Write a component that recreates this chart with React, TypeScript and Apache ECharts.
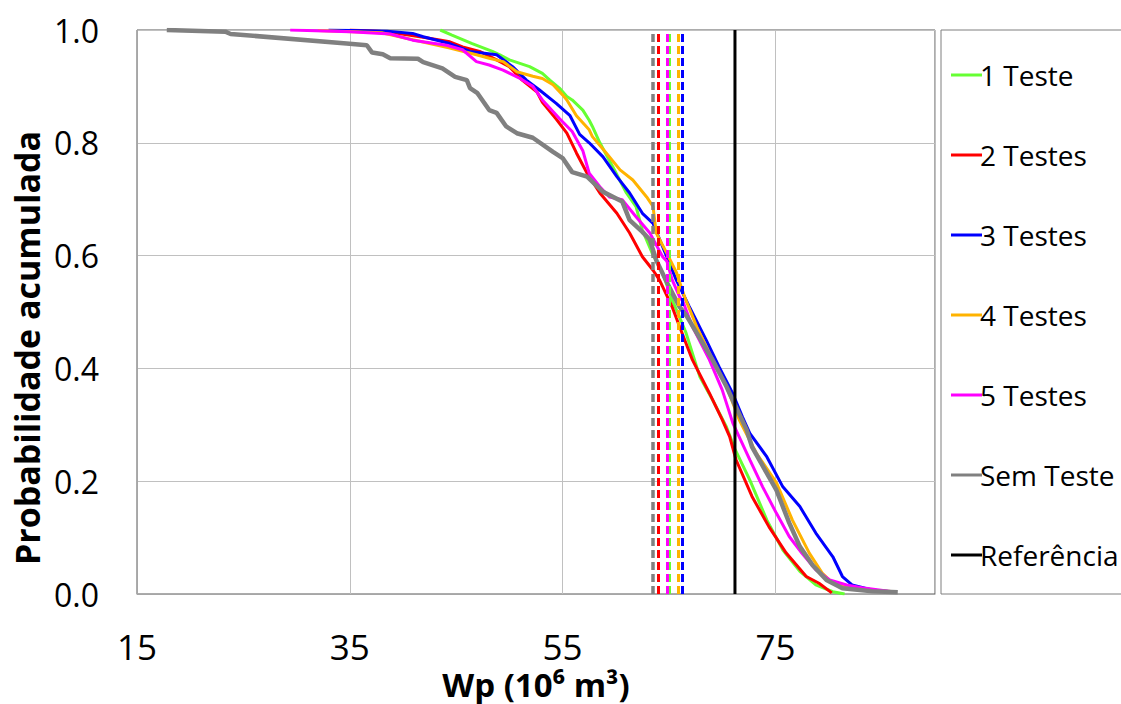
import React, { useEffect, useRef } from 'react';
import * as echarts from 'echarts';

// ---- data ----
const seriesNames = ['1 Teste', '2 Testes', '3 Testes', '4 Testes', '5 Testes', 'Sem Teste', 'Referência'];

const teste1: number[][] = [
  [43.5, 1.0], [44.6, 0.991], [46.5, 0.976], [48.4, 0.962], [49.1, 0.956], [50.0, 0.947], [51.9, 0.935],
  [53.1, 0.923], [53.8, 0.911], [54.7, 0.897], [55.4, 0.882], [55.9, 0.876], [56.9, 0.858], [57.5, 0.840],
  [57.8, 0.829], [58.5, 0.800], [59.7, 0.758], [61.0, 0.711], [61.9, 0.687], [62.5, 0.645], [63.4, 0.605],
  [64.4, 0.569], [65.3, 0.521], [65.7, 0.504], [66.6, 0.463], [67.9, 0.385], [69.1, 0.344], [70.4, 0.296],
  [71.2, 0.257], [72.6, 0.202], [74.2, 0.131], [75.7, 0.078], [77.3, 0.040], [78.8, 0.016], [80.4, 0.004],
  [81.5, 0.0],
];

const teste2: number[][] = [
  [35.0, 1.0], [38.5, 0.997], [41.9, 0.987], [44.4, 0.979], [45.6, 0.970], [47.2, 0.962], [48.8, 0.947],
  [50.0, 0.935], [51.2, 0.911], [52.6, 0.890], [53.1, 0.872], [53.8, 0.856], [54.4, 0.842], [55.4, 0.817],
  [56.3, 0.782], [57.3, 0.746], [58.5, 0.711], [60.1, 0.675], [61.3, 0.640], [62.5, 0.598], [63.5, 0.574],
  [64.1, 0.557], [64.4, 0.545], [65.3, 0.509], [66.0, 0.474], [67.2, 0.415], [68.8, 0.356], [70.0, 0.309],
  [70.7, 0.279], [71.3, 0.238], [72.8, 0.173], [74.4, 0.119], [76.0, 0.073], [77.9, 0.031], [79.1, 0.019],
  [80.3, 0.002],
];

const teste3: number[][] = [
  [33.0, 1.0], [38.5, 0.998], [40.9, 0.994], [41.9, 0.988], [44.4, 0.976], [46.3, 0.962], [48.8, 0.956],
  [50.3, 0.935], [51.6, 0.911], [52.8, 0.894], [54.4, 0.870], [55.7, 0.848], [56.6, 0.815], [57.5, 0.800],
  [58.8, 0.775], [60.1, 0.740], [61.3, 0.711], [62.5, 0.675], [63.5, 0.657], [64.4, 0.616], [65.7, 0.556],
  [66.9, 0.510], [68.5, 0.450], [69.7, 0.403], [71.0, 0.355], [71.9, 0.314], [72.6, 0.285], [74.2, 0.243],
  [75.7, 0.190], [77.3, 0.155], [78.8, 0.108], [80.4, 0.066], [81.3, 0.031], [82.2, 0.016], [84.1, 0.007],
  [85.9, 0.004],
];

const teste4: number[][] = [
  [32.0, 0.999], [38.0, 0.995], [42.5, 0.976], [44.4, 0.968], [46.9, 0.956], [48.1, 0.950], [49.4, 0.944],
  [50.7, 0.926], [52.2, 0.918], [53.1, 0.914], [54.1, 0.903], [55.0, 0.885], [55.4, 0.876], [56.3, 0.848],
  [57.5, 0.823], [57.8, 0.811], [59.1, 0.782], [60.4, 0.752], [61.6, 0.734], [62.9, 0.704], [63.5, 0.687],
  [63.8, 0.640], [64.8, 0.604], [65.7, 0.570], [66.5, 0.525], [67.6, 0.474], [69.1, 0.415], [70.4, 0.368],
  [71.6, 0.309], [73.2, 0.250], [75.1, 0.197], [76.6, 0.131], [78.2, 0.072], [79.4, 0.037], [80.4, 0.019],
  [82.9, 0.007], [86.4, 0.004],
];

const teste5: number[][] = [
  [29.4, 1.0], [35.0, 0.997], [38.8, 0.993], [40.9, 0.982], [44.1, 0.973], [45.6, 0.965], [46.9, 0.944],
  [48.1, 0.938], [49.4, 0.929], [51.0, 0.914], [52.2, 0.900], [53.1, 0.876], [54.7, 0.843], [55.9, 0.820],
  [56.9, 0.786], [57.5, 0.746], [58.5, 0.722], [59.4, 0.704], [60.6, 0.699], [61.9, 0.669], [63.2, 0.640],
  [64.4, 0.598], [64.8, 0.590], [65.3, 0.557], [66.0, 0.527], [66.3, 0.519], [67.2, 0.474], [68.8, 0.415],
  [70.0, 0.362], [71.0, 0.303], [72.6, 0.238], [73.8, 0.190], [75.1, 0.143], [76.3, 0.102], [77.5, 0.072],
  [78.8, 0.043], [80.1, 0.025], [81.7, 0.016], [83.5, 0.010], [86.0, 0.004],
];

const semTeste: number[][] = [
  [17.8, 1.0], [23.3, 0.997], [23.8, 0.993], [34.7, 0.976], [36.6, 0.973], [37.1, 0.960], [38.1, 0.957],
  [38.8, 0.950], [41.4, 0.949], [41.9, 0.943], [43.7, 0.932], [44.9, 0.917], [46.0, 0.911], [46.3, 0.897],
  [47.0, 0.888], [48.1, 0.858], [48.8, 0.853], [49.7, 0.829], [50.7, 0.817], [52.2, 0.809], [54.1, 0.784],
  [55.0, 0.773], [55.9, 0.748], [57.3, 0.740], [58.8, 0.713], [60.6, 0.696], [61.3, 0.663], [62.5, 0.642],
  [63.2, 0.628], [63.8, 0.592], [65.0, 0.545], [66.0, 0.509], [66.7, 0.492], [67.6, 0.463], [69.1, 0.415],
  [70.4, 0.368], [71.2, 0.335], [72.3, 0.291], [72.8, 0.261], [75.1, 0.184], [76.3, 0.126], [77.3, 0.084],
  [78.5, 0.051], [79.8, 0.025], [81.3, 0.010], [84.1, 0.005], [86.5, 0.003],
];

const referencia: number[][] = [[71.2, 0], [71.2, 1]];

// mean (dashed) values per series, same order as seriesNames (first six)
const meanValues = [65.05, 64.0, 66.2, 65.9, 64.85, 63.45];

const xTickLabels = [15, 35, 55, 75];

// ---- styles ----
const FONT = "'Open Sans', 'Noto Sans', 'DejaVu Sans', sans-serif";
const colors = ['#66ff33', '#ff0000', '#0000ff', '#ffb300', '#ff00ff', '#808080', '#000000'];
const widths = [3, 3, 3, 3, 3, 4.5, 3];

const allData = [teste1, teste2, teste3, teste4, teste5, semTeste, referencia];

function buildOption() {
  const series: any[] = allData.map((d, i) => {
    const s: any = {
      name: seriesNames[i],
      type: 'line',
      data: d,
      symbol: 'none',
      showSymbol: false,
      color: colors[i],
      itemStyle: { color: colors[i] },
      lineStyle: { color: colors[i], width: widths[i] },
      emphasis: { disabled: true },
      z: 3,
    };
    if (i < meanValues.length) {
      s.markLine = {
        silent: true,
        symbol: ['none', 'none'],
        label: { show: false },
        emphasis: { disabled: true },
        lineStyle: { type: [8, 4], width: i === 5 ? 3.5 : 3, color: colors[i] },
        data: [{ xAxis: meanValues[i] }],
      };
    }
    return s;
  });

  return {
    animation: false,
    backgroundColor: '#ffffff',
    textStyle: { fontFamily: FONT },
    grid: {
      left: 137,
      top: 30,
      right: 186,
      bottom: 110,
      show: true,
      borderColor: '#595959',
      borderWidth: 1,
      backgroundColor: 'transparent',
      containLabel: false,
      outerBoundsMode: 'none',
    },
    xAxis: {
      type: 'value',
      min: 15,
      max: 90,
      interval: 20,
      name: 'Wp (10⁶ m³)',
      nameLocation: 'middle',
      nameGap: 69,
      nameTextStyle: {
        fontFamily: FONT,
        fontSize: 33,
        lineHeight: 32,
        fontWeight: 'bold',
        color: '#000',
      },
      axisLine: { show: true, lineStyle: { color: '#a6a6a6', width: 1 } },
      axisTick: { show: false },
      splitLine: { show: true, lineStyle: { color: '#c0c0c0', width: 1 } },
      axisLabel: {
        fontFamily: FONT,
        fontSize: 35,
        lineHeight: 32,
        color: '#000',
        margin: 36,
        formatter: (v: number) => (xTickLabels.includes(v) ? String(v) : ''),
      },
    },
    yAxis: {
      type: 'value',
      min: 0,
      max: 1,
      interval: 0.2,
      axisLine: { show: true, lineStyle: { color: '#a6a6a6', width: 1 } },
      axisTick: { show: false },
      splitLine: { show: true, lineStyle: { color: '#c0c0c0', width: 1 } },
      axisLabel: {
        fontFamily: FONT,
        fontSize: 32,
        color: '#000',
        margin: 38,
        formatter: (v: number) => v.toFixed(1),
      },
    },
    legend: {
      data: seriesNames.map((n) => ({ name: n, icon: 'rect' })),
      orient: 'vertical',
      left: 946,
      top: 56,
      itemWidth: 31,
      itemHeight: 3,
      itemGap: 52,
      selectedMode: false,
      textStyle: { fontFamily: FONT, fontSize: 28, color: '#000', padding: [0, 0, 0, -7] },
    },
    graphic: [
      {
        type: 'rect',
        shape: { x: 941, y: 30, width: 220, height: 564 },
        style: { fill: 'none', stroke: '#7f7f7f', lineWidth: 1 },
        silent: true,
        z: -1,
      },
      {
        type: 'text',
        x: 27,
        y: 348,
        rotation: Math.PI / 2,
        style: {
          text: 'Probabilidade acumulada',
          font: `bold 34px ${FONT}`,
          fill: '#000',
          textAlign: 'center',
          textVerticalAlign: 'middle',
        },
        silent: true,
      },
    ],
    series,
  };
}

export default function App() {
  const ref = useRef<HTMLDivElement>(null);
  useEffect(() => {
    document.body.style.margin = '0';
    const chart = echarts.init(ref.current as HTMLDivElement, null, { renderer: 'svg' });
    chart.setOption(buildOption() as any);
    return () => chart.dispose();
  }, []);
  return <div ref={ref} style={{ width: 1121, height: 704, background: '#fff', overflow: 'hidden' }} />;
}
